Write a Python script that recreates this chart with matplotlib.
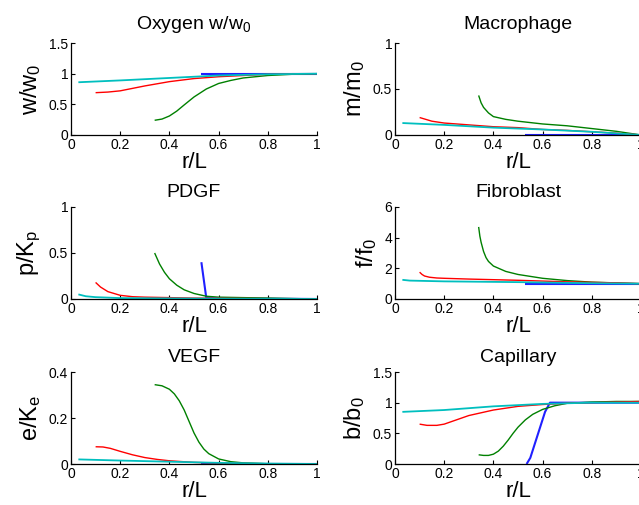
import matplotlib
matplotlib.use("Agg")
import matplotlib.pyplot as plt

plt.rcParams['font.family'] = ['Liberation Sans', 'DejaVu Sans']
plt.rcParams['mathtext.fontset'] = 'custom'
plt.rcParams['mathtext.rm'] = 'Liberation Sans'
plt.rcParams['mathtext.it'] = 'Liberation Sans'

# ---- data (r/L positions and values for four time points) ----
# Oxygen
oxy_blue_x = [0.53, 0.7, 0.85, 1.0]
oxy_blue_y = [1.0, 1.0, 1.0, 1.0]
oxy_green_x = [0.34, 0.37, 0.4, 0.43, 0.46, 0.5, 0.55, 0.6, 0.65, 0.7, 0.8, 0.9, 1.0]
oxy_green_y = [0.24, 0.26, 0.31, 0.39, 0.49, 0.62, 0.75, 0.84, 0.89, 0.93, 0.97, 0.99, 1.0]
oxy_red_x = [0.1, 0.15, 0.2, 0.25, 0.3, 0.4, 0.5, 0.6, 0.7, 0.8, 0.9, 1.0]
oxy_red_y = [0.69, 0.70, 0.72, 0.76, 0.80, 0.87, 0.92, 0.95, 0.97, 0.99, 1.0, 1.0]
oxy_cyan_x = [0.03, 0.2, 0.4, 0.6, 0.8, 1.0]
oxy_cyan_y = [0.86, 0.89, 0.93, 0.97, 0.99, 1.0]

# Macrophage
mac_blue_x = [0.53, 0.75, 1.0]
mac_blue_y = [0.0, 0.0, 0.0]
mac_green_x = [0.34, 0.35, 0.36, 0.38, 0.4, 0.45, 0.5, 0.6, 0.7, 0.8, 0.9, 1.0]
mac_green_y = [0.43, 0.35, 0.30, 0.24, 0.20, 0.17, 0.15, 0.12, 0.10, 0.07, 0.04, 0.0]
mac_red_x = [0.1, 0.15, 0.2, 0.3, 0.4, 0.5, 0.6, 0.7, 0.8, 0.9, 1.0]
mac_red_y = [0.19, 0.15, 0.13, 0.11, 0.09, 0.08, 0.06, 0.05, 0.035, 0.02, 0.0]
mac_cyan_x = [0.03, 0.2, 0.4, 0.6, 0.8, 1.0]
mac_cyan_y = [0.13, 0.11, 0.08, 0.06, 0.035, 0.0]

# PDGF
pdg_blue_x = [0.53, 0.55, 0.7, 1.0]
pdg_blue_y = [0.40, 0.01, 0.005, 0.0]
pdg_green_x = [0.34, 0.36, 0.38, 0.4, 0.43, 0.46, 0.5, 0.55, 0.6, 0.8, 1.0]
pdg_green_y = [0.50, 0.38, 0.29, 0.22, 0.15, 0.10, 0.06, 0.03, 0.02, 0.01, 0.0]
pdg_red_x = [0.1, 0.12, 0.15, 0.2, 0.25, 0.3, 0.5, 1.0]
pdg_red_y = [0.18, 0.13, 0.08, 0.04, 0.025, 0.02, 0.01, 0.0]
pdg_cyan_x = [0.03, 0.06, 0.1, 0.2, 0.5, 1.0]
pdg_cyan_y = [0.05, 0.03, 0.02, 0.01, 0.005, 0.0]

# Fibroblast
fib_blue_x = [0.53, 0.75, 1.0]
fib_blue_y = [1.0, 1.0, 1.0]
fib_green_x = [0.34, 0.345, 0.35, 0.36, 0.37, 0.38, 0.4, 0.45, 0.5, 0.6, 0.7, 0.8, 0.9, 1.0]
fib_green_y = [4.7, 4.1, 3.7, 3.1, 2.7, 2.45, 2.15, 1.8, 1.6, 1.35, 1.2, 1.1, 1.05, 1.0]
fib_red_x = [0.1, 0.11, 0.12, 0.14, 0.17, 0.2, 0.3, 0.5, 0.7, 0.9, 1.0]
fib_red_y = [1.75, 1.6, 1.5, 1.42, 1.37, 1.35, 1.3, 1.22, 1.12, 1.05, 1.0]
fib_cyan_x = [0.03, 0.06, 0.2, 0.5, 0.8, 1.0]
fib_cyan_y = [1.25, 1.2, 1.15, 1.1, 1.03, 1.0]

# VEGF
veg_blue_x = [0.53, 0.75, 1.0]
veg_blue_y = [0.0, 0.0, 0.0]
veg_green_x = [0.34, 0.37, 0.4, 0.42, 0.44, 0.46, 0.48, 0.5, 0.52, 0.54, 0.56, 0.6, 0.65, 0.7, 0.8, 1.0]
veg_green_y = [0.345, 0.34, 0.325, 0.305, 0.275, 0.235, 0.185, 0.135, 0.095, 0.065, 0.045, 0.022, 0.01, 0.005, 0.001, 0.0]
veg_red_x = [0.1, 0.13, 0.16, 0.2, 0.25, 0.3, 0.35, 0.4, 0.5, 0.6, 0.8, 1.0]
veg_red_y = [0.075, 0.074, 0.068, 0.055, 0.04, 0.028, 0.02, 0.014, 0.007, 0.004, 0.001, 0.0]
veg_cyan_x = [0.03, 0.2, 0.4, 0.6, 0.8, 1.0]
veg_cyan_y = [0.02, 0.015, 0.01, 0.005, 0.002, 0.0]

# Capillary
cap_blue_x = [0.535, 0.55, 0.57, 0.59, 0.61, 0.63, 0.7, 1.0]
cap_blue_y = [0.0, 0.1, 0.35, 0.6, 0.85, 1.0, 1.0, 1.0]
cap_green_x = [0.34, 0.36, 0.38, 0.4, 0.42, 0.44, 0.46, 0.48, 0.5, 0.53, 0.56, 0.6, 0.65, 0.7, 0.8, 0.9, 1.0]
cap_green_y = [0.15, 0.14, 0.14, 0.16, 0.21, 0.29, 0.39, 0.50, 0.60, 0.72, 0.81, 0.89, 0.95, 0.99, 1.01, 1.02, 1.02]
cap_red_x = [0.1, 0.13, 0.17, 0.2, 0.25, 0.3, 0.4, 0.5, 0.6, 0.7, 0.8, 1.0]
cap_red_y = [0.65, 0.63, 0.63, 0.65, 0.72, 0.79, 0.88, 0.94, 0.97, 0.99, 1.0, 1.02]
cap_cyan_x = [0.03, 0.2, 0.4, 0.6, 0.8, 1.0]
cap_cyan_y = [0.85, 0.88, 0.94, 0.98, 1.0, 1.0]

panels = [
    ("Oxygen $\\mathregular{w/w_0}$", "$\\mathregular{w/w_0}$", [0, 0.5, 1, 1.5], ["0", "0.5", "1", "1.5"], (0, 1.5),
     [(oxy_blue_x, oxy_blue_y), (oxy_green_x, oxy_green_y), (oxy_red_x, oxy_red_y), (oxy_cyan_x, oxy_cyan_y)]),
    ("Macrophage", "$\\mathregular{m/m_0}$", [0, 0.5, 1], ["0", "0.5", "1"], (0, 1),
     [(mac_blue_x, mac_blue_y), (mac_green_x, mac_green_y), (mac_red_x, mac_red_y), (mac_cyan_x, mac_cyan_y)]),
    ("PDGF", "$\\mathregular{p/K_p}$", [0, 0.5, 1], ["0", "0.5", "1"], (0, 1),
     [(pdg_blue_x, pdg_blue_y), (pdg_green_x, pdg_green_y), (pdg_red_x, pdg_red_y), (pdg_cyan_x, pdg_cyan_y)]),
    ("Fibroblast", "$\\mathregular{f/f_0}$", [0, 2, 4, 6], ["0", "2", "4", "6"], (0, 6),
     [(fib_blue_x, fib_blue_y), (fib_green_x, fib_green_y), (fib_red_x, fib_red_y), (fib_cyan_x, fib_cyan_y)]),
    ("VEGF", "$\\mathregular{e/K_e}$", [0, 0.2, 0.4], ["0", "0.2", "0.4"], (0, 0.4),
     [(veg_blue_x, veg_blue_y), (veg_green_x, veg_green_y), (veg_red_x, veg_red_y), (veg_cyan_x, veg_cyan_y)]),
    ("Capillary", "$\\mathregular{b/b_0}$", [0, 0.5, 1, 1.5], ["0", "0.5", "1", "1.5"], (0, 1.5),
     [(cap_blue_x, cap_blue_y), (cap_green_x, cap_green_y), (cap_red_x, cap_red_y), (cap_cyan_x, cap_cyan_y)]),
]

x_ticks = [0, 0.2, 0.4, 0.6, 0.8, 1]
x_ticklabels = ["0", "0.2", "0.4", "0.6", "0.8", "1"]
colors = ["#2020ff", "#008000", "#ff0000", "#00bfbf"]
widths = [1.5, 1.0, 1.0, 1.3]

fig = plt.figure(figsize=(6.39, 5.05), dpi=100)
W, H = 639, 505
lefts = [71, 395]
bottoms = [135, 299, 464]
aw, ah = 246, 92

for i, (title, ylab, yt, ytl, ylim, series) in enumerate(panels):
    row, col = divmod(i, 2)
    ax = fig.add_axes([lefts[col] / W, (H - bottoms[row]) / H, aw / W, ah / H])
    for (xs, ys), c, lw in zip(series, colors, widths):
        ax.plot(xs, ys, color=c, lw=lw, solid_capstyle='butt')
    ax.set_xlim(0, 1)
    ax.set_ylim(*ylim)
    ax.set_xticks(x_ticks)
    ax.set_xticklabels(x_ticklabels)
    ax.set_yticks(yt)
    ax.set_yticklabels(ytl)
    ax.spines['top'].set_visible(False)
    ax.spines['right'].set_visible(False)
    for s in ('left', 'bottom'):
        ax.spines[s].set_linewidth(0.9)
    ax.tick_params(direction='in', length=3, width=0.8, labelsize=10, pad=2)
    ax.set_title(title, fontsize=14, pad=(10 if row == 0 else 7))
    ax.set_xlabel("r/L", fontsize=16, labelpad=0)
    ax.set_ylabel(ylab, fontsize=17, labelpad=4)

fig.savefig("out.png", dpi=100)
